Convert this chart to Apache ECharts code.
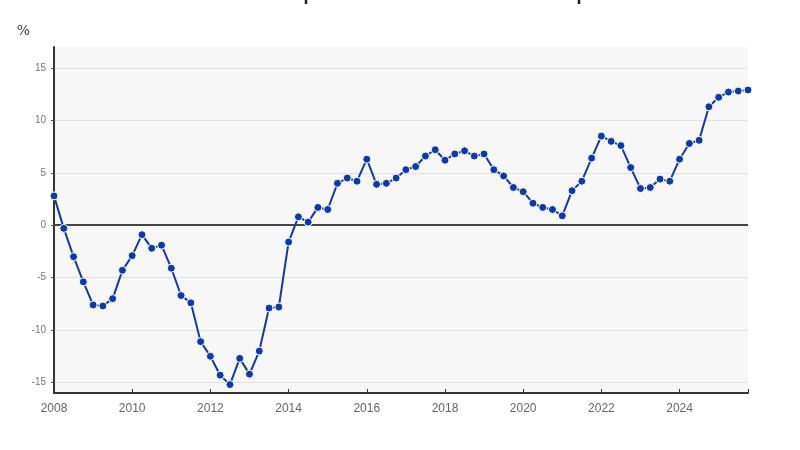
<!DOCTYPE html>
<html>
<head>
<meta charset="utf-8">
<script src="https://cdn.jsdelivr.net/npm/echarts@6/dist/echarts.min.js"></script>
<style>html,body{margin:0;padding:0;background:#fff}#c{width:800px;height:450px}</style>
</head>
<body>
<div id="c"></div>
<script>
// Quarterly year-on-year change (%), 2008Q1 .. 2025Q4
var startYear = 2008;
var values = [
  2.8, -0.3, -3.0, -5.4,
  -7.6, -7.7, -7.0, -4.3,
  -2.9, -0.9, -2.2, -1.9,
  -4.1, -6.7, -7.4, -11.1,
  -12.5, -14.3, -15.2, -12.7,
  -14.2, -12.0, -7.9, -7.8,
  -1.6, 0.8, 0.3, 1.7,
  1.5, 4.0, 4.5, 4.2,
  6.3, 3.9, 4.0, 4.5,
  5.3, 5.6, 6.6, 7.2,
  6.2, 6.8, 7.1, 6.6,
  6.8, 5.3, 4.7, 3.6,
  3.2, 2.1, 1.7, 1.5,
  0.9, 3.3, 4.2, 6.4,
  8.5, 8.0, 7.6, 5.5,
  3.5, 3.6, 4.4, 4.2,
  6.3, 7.8, 8.1, 11.3,
  12.2, 12.7, 12.8, 12.9
];
var xTickYears = [2008, 2010, 2012, 2014, 2016, 2018, 2020, 2022, 2024];
var titleText = 'Evolución del precio de la vivienda libre en España';
var unitLabel = '%';

var points = values.map(function (v, i) { return [i, v]; });

var chart = echarts.init(document.getElementById('c'));
chart.setOption({
  animation: false,
  backgroundColor: '#ffffff',
  title: {
    text: titleText,
    left: 'center',
    top: -19,
    textStyle: { fontSize: 18, fontWeight: 'bold', color: '#222', fontFamily: 'Liberation Sans, Arial, sans-serif' }
  },
  grid: {
    left: 54, right: 52, top: 47, bottom: 57,
    show: true, backgroundColor: '#f7f7f7', borderWidth: 0
  },
  xAxis: {
    type: 'value',
    min: 0,
    max: values.length - 1,
    interval: 8,
    axisLine: { show: true, onZero: false, lineStyle: { color: '#333', width: 2 } },
    axisTick: { show: true, inside: true, length: 4, lineStyle: { color: '#333' } },
    splitLine: { show: false },
    axisLabel: {
      color: '#666', fontSize: 12, margin: 10,
      fontFamily: 'Liberation Sans Narrow, Arial Narrow, sans-serif',
      formatter: function (v) {
        var y = startYear + v / 4;
        return xTickYears.indexOf(y) >= 0 ? String(y) : '';
      }
    }
  },
  yAxis: {
    type: 'value',
    min: -16,
    max: 17,
    name: unitLabel,
    nameLocation: 'end',
    nameGap: 9,
    nameTextStyle: { color: '#444', fontSize: 14, align: 'right', padding: [0, 24, 0, 0], fontFamily: 'DejaVu Sans, sans-serif' },
    axisLine: { show: true, lineStyle: { color: '#333', width: 2 } },
    axisTick: { show: true, length: 3, lineStyle: { color: '#555' } },
    splitLine: { show: true, showMinLine: false, showMaxLine: false, lineStyle: { color: '#e2e2e2', width: 1 } },
    axisLabel: {
      color: '#777', fontSize: 10, margin: 8,
      showMinLabel: false, showMaxLabel: false,
      formatter: function (v) { return v % 5 === 0 ? String(v) : ''; }
    }
  },
  series: [{
    type: 'line',
    data: points,
    symbol: 'circle',
    symbolSize: 8,
    lineStyle: { color: '#17399c', width: 2 },
    itemStyle: { color: '#0f3aa3', borderColor: '#ffffff', borderWidth: 1 },
    markLine: {
      silent: true,
      symbol: 'none',
      label: { show: false },
      lineStyle: { color: '#444', width: 2, type: 'solid' },
      data: [{ yAxis: 0 }],
      z: 1
    },
    z: 3
  }]
});
</script>
</body>
</html>
